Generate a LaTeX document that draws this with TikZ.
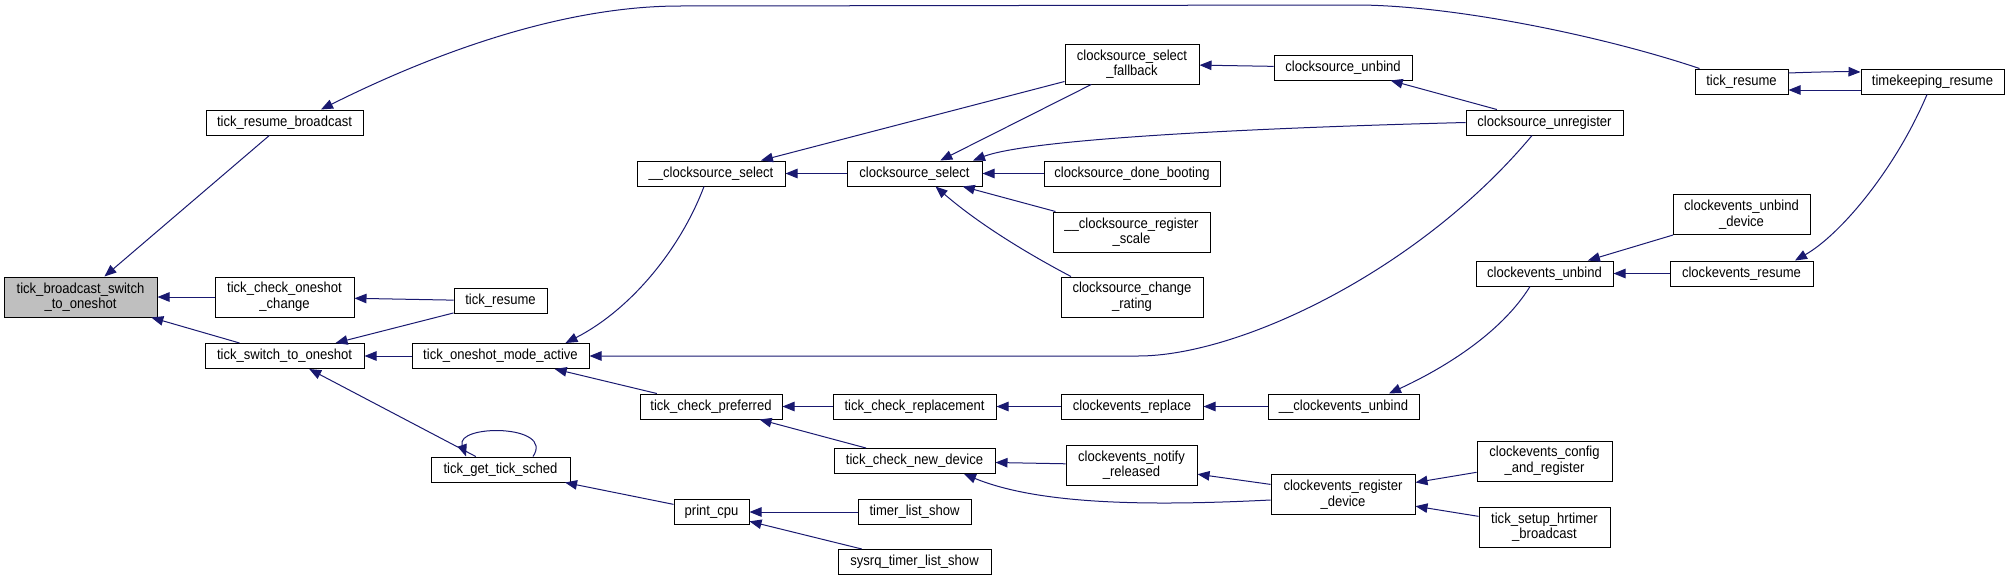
\documentclass[tikz,border=0pt]{standalone}
\usepackage{fontspec}
\setmainfont{Liberation Sans}[FakeStretch=0.9]
\usepackage{tikz}
\usetikzlibrary{arrows.meta}
\definecolor{cgEdge}{HTML}{191970}
\definecolor{cgFill}{HTML}{BFBFBF}

\tikzset{
  fnbox/.style={draw=black, line width=1pt, fill=white, inner xsep=2pt, inner ysep=0pt,
    minimum height=25pt, align=center, font=\fontsize{14.5}{15.6}\selectfont},
  fnboxtwo/.style={fnbox, minimum height=40pt},
  call/.style={draw=cgEdge, line width=1pt, -{Triangle[length=12pt,width=9.5pt]}}
}

\begin{document}
\begin{tikzpicture}[x=1pt, y=-1pt]
  \useasboundingbox (0,0) rectangle (2009,581);

  % column 1-3
  \node[fnboxtwo, fill=cgFill, minimum width=153pt] (tbsto) at (80.5,297) {tick\_broadcast\_switch\\\_to\_oneshot};
  \node[fnbox, minimum width=157pt] (trb) at (284.5,122.5) {tick\_resume\_broadcast};
  \node[fnboxtwo, minimum width=139pt] (tcoc) at (284.5,297) {tick\_check\_oneshot\\\_change};
  \node[fnbox, minimum width=159pt] (tsto) at (284.5,356) {tick\_switch\_to\_oneshot};
  \node[fnbox, minimum width=93pt] (trL) at (500.5,301) {tick\_resume};
  \node[fnbox, minimum width=177pt] (toma) at (500.5,356) {tick\_oneshot\_mode\_active};
  \node[fnbox, minimum width=139pt] (tgts) at (500.5,469.5) {tick\_get\_tick\_sched};

  % column 4-5
  \node[fnbox, minimum width=148pt] (cselu) at (711,173.5) {\_\_clocksource\_select};
  \node[fnbox, minimum width=142pt] (tcp) at (711,406.5) {tick\_check\_preferred};
  \node[fnbox, minimum width=75pt] (pcpu) at (711.5,512) {print\_cpu};
  \node[fnbox, minimum width=135pt] (csel) at (914.5,173.5) {clocksource\_select};
  \node[fnbox, minimum width=163pt] (tcr) at (914.5,406.5) {tick\_check\_replacement};
  \node[fnbox, minimum width=161pt] (tcnd) at (914.5,461) {tick\_check\_new\_device};
  \node[fnbox, minimum width=113pt] (tls) at (914.5,512) {timer\_list\_show};
  \node[fnbox, minimum width=153pt] (stls) at (914.5,562) {sysrq\_timer\_list\_show};

  % column 6
  \node[fnboxtwo, minimum width=134pt] (csfb) at (1132,64) {clocksource\_select\\\_fallback};
  \node[fnbox, minimum width=176pt] (cdb) at (1132,173.5) {clocksource\_done\_booting};
  \node[fnboxtwo, minimum width=157pt] (crs) at (1131.5,232) {\_\_clocksource\_register\\\_scale};
  \node[fnboxtwo, minimum width=142pt] (ccr) at (1132,297) {clocksource\_change\\\_rating};
  \node[fnbox, minimum width=142pt] (cer) at (1132,406.5) {clockevents\_replace};
  \node[fnboxtwo, minimum width=131pt] (cenr) at (1131.5,465) {clockevents\_notify\\\_released};

  % column 7
  \node[fnbox, minimum width=138pt] (csu) at (1343,67.5) {clocksource\_unbind};
  \node[fnbox, minimum width=151pt] (ceuu) at (1343.5,406.5) {\_\_clockevents\_unbind};
  \node[fnboxtwo, minimum width=144pt] (cerd) at (1343,494.5) {clockevents\_register\\\_device};

  % column 8
  \node[fnbox, minimum width=157pt] (csur) at (1544.5,122.5) {clocksource\_unregister};
  \node[fnbox, minimum width=137pt] (ceu) at (1544.5,273.5) {clockevents\_unbind};
  \node[fnboxtwo, minimum width=135pt] (cecr) at (1544.5,461) {clockevents\_config\\\_and\_register};
  \node[fnboxtwo, minimum width=131pt] (tshb) at (1544.5,527) {tick\_setup\_hrtimer\\\_broadcast};

  % column 9-10
  \node[fnboxtwo, minimum width=137pt] (ceud) at (1741.5,214.5) {clockevents\_unbind\\\_device};
  \node[fnbox, minimum width=143pt] (cres) at (1741.5,273.5) {clockevents\_resume};
  \node[fnbox, minimum width=93pt] (trR) at (1741.5,81.5) {tick\_resume};
  \node[fnbox, minimum width=143pt] (tkr) at (1932.5,81.5) {timekeeping\_resume};

  % straight calls
  \draw[call] (trb) -- (tbsto);
  \draw[call] (tcoc) -- (tbsto);
  \draw[call] (tsto) -- (tbsto);
  \draw[call] (trL) -- (tcoc);
  \draw[call] (trL) -- (tsto);
  \draw[call] (toma) -- (tsto);
  \draw[call] (tgts) -- (tsto);
  \draw[call] (tcp) -- (toma);
  \draw[call] (pcpu) -- (tgts);
  \draw[call] (csfb) -- (cselu);
  \draw[call] (csel) -- (cselu);
  \draw[call] (csfb) -- (csel);
  \draw[call] (cdb) -- (csel);
  \draw[call] (crs) -- (csel);
  \draw[call] (csu) -- (csfb);
  \draw[call] (csur) -- (csu);
  \draw[call] (tcr) -- (tcp);
  \draw[call] (tcnd) -- (tcp);
  \draw[call] (cer) -- (tcr);
  \draw[call] (ceuu) -- (cer);
  \draw[call] (ceud) -- (ceu);
  \draw[call] (cres) -- (ceu);
  \draw[call] (cenr) -- (tcnd);
  \draw[call] (cerd) -- (cenr);
  \draw[call] (cecr) -- (cerd);
  \draw[call] (tshb) -- (cerd);
  \draw[call] (tls) -- (pcpu);
  \draw[call] (stls) -- (pcpu);

  % curved calls
  \draw[call] ([xshift=5pt]trR.north west) .. controls (1600,35) and (1450,5) .. (1356,5)
    -- (680,6) .. controls (560,6) and (430,55) .. ([xshift=36.5pt]trb.north);
  \draw[call] ([xshift=32.5pt]tgts.north) .. controls (555,424) and (455,424) .. ([xshift=-34.5pt]tgts.north);
  \draw[call] ([xshift=-7pt]cselu.south) .. controls (680,250) and (630,310) .. ([xshift=65pt]toma.north);
  \draw[call] ([xshift=-12.5pt]csur.south) .. controls (1420,270) and (1240,356) .. (1138,356) -- (toma.east);
  \draw[call] (csur.west) .. controls (1250,128) and (1030,139) .. ([xshift=58.5pt]csel.north);
  \draw[call] ([xshift=-61pt]ccr.north) .. controls (1030,255) and (980,225) .. ([xshift=21pt]csel.south);
  \draw[call] ([xshift=-14.5pt]ceu.south) .. controls (1500,335) and (1440,370) .. ([xshift=45.5pt]ceuu.north);
  \draw[call] ([xshift=-5.5pt]tkr.south) .. controls (1895,170) and (1840,235) .. ([xshift=53.5pt]cres.north);
  \draw[call] ([yshift=-5.5pt]cerd.west) .. controls (1150,506) and (1040,505) .. ([xshift=49.5pt]tcnd.south);
  \draw[call] ([yshift=8.5pt]trR.east) .. controls (1815,72) and (1840,71.5) .. ([yshift=9.5pt]tkr.west);
  \draw[call] ([yshift=-8.5pt]tkr.west) -- ([yshift=-8.5pt]trR.east);
\end{tikzpicture}
\end{document}
